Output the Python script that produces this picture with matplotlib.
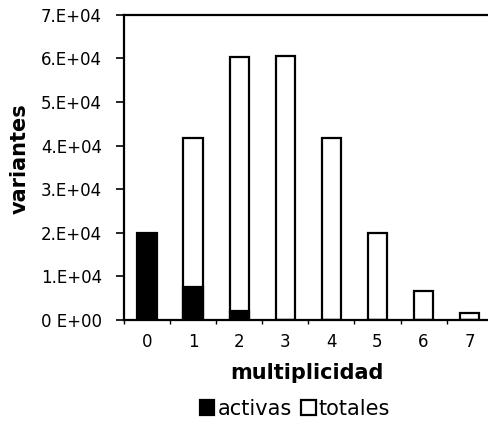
import matplotlib
matplotlib.use("Agg")
import matplotlib.pyplot as plt
import numpy as np
from matplotlib.ticker import FixedLocator

categories = ["0", "1", "2", "3", "4", "5", "6", "7"]
activas = [20000, 7500, 2000, 0, 0, 0, 0, 0]
totales = [0, 41700, 60400, 60500, 41700, 20000, 6600, 1500]
ytick_vals = [0, 10000, 20000, 30000, 40000, 50000, 60000, 70000]
ytick_labels = ["0 E+00", "1.E+04", "2.E+04", "3.E+04", "4.E+04", "5.E+04", "6.E+04", "7.E+04"]

plt.rcParams['font.family'] = ['DejaVu Sans']

fig = plt.figure(figsize=(4.89, 4.36), dpi=100)
ax = fig.add_axes([0.2536, 0.266, 0.7464, 0.6998])

x = np.arange(len(categories))
w = 0.42
ax.bar(x, totales, width=w, color="white", edgecolor="black", linewidth=1.6,
       label="totales", zorder=2)
ax.bar(x, activas, width=w, color="black", edgecolor="black", linewidth=1.6,
       label="activas", zorder=3)

ax.set_xlim(-0.5, 7.42)
ax.set_ylim(0, 70000)
ax.set_yticks(ytick_vals)
ax.set_yticklabels(ytick_labels, fontsize=12)
ax.set_xticks(x)
ax.set_xticklabels(categories, fontsize=12)
ax.xaxis.set_minor_locator(FixedLocator(np.arange(-0.5, 7.5, 1.0)))
ax.tick_params(axis="x", which="major", length=0, pad=9)
ax.tick_params(axis="x", which="minor", length=3, width=1, direction="out")
ax.tick_params(axis="y", which="major", length=6, width=1.2, direction="out", pad=10)

for s in ["left", "top", "bottom"]:
    ax.spines[s].set_linewidth(1.6)
ax.spines["right"].set_visible(False)

ax.set_xlabel("multiplicidad", fontsize=15, fontweight="bold", labelpad=9)
ax.set_ylabel("variantes", fontsize=15, fontweight="bold")
ax.yaxis.set_label_coords(-0.258, 0.53)

handles, labels = ax.get_legend_handles_labels()
order = [1, 0]
fig.legend([handles[i] for i in order], [labels[i] for i in order],
           loc="center", bbox_to_anchor=(0.603, 0.062), ncol=2, frameon=False,
           fontsize=15, handlelength=0.7, handleheight=0.7, handletextpad=0.15,
           columnspacing=0.45)

fig.savefig("out.png", dpi=100)
